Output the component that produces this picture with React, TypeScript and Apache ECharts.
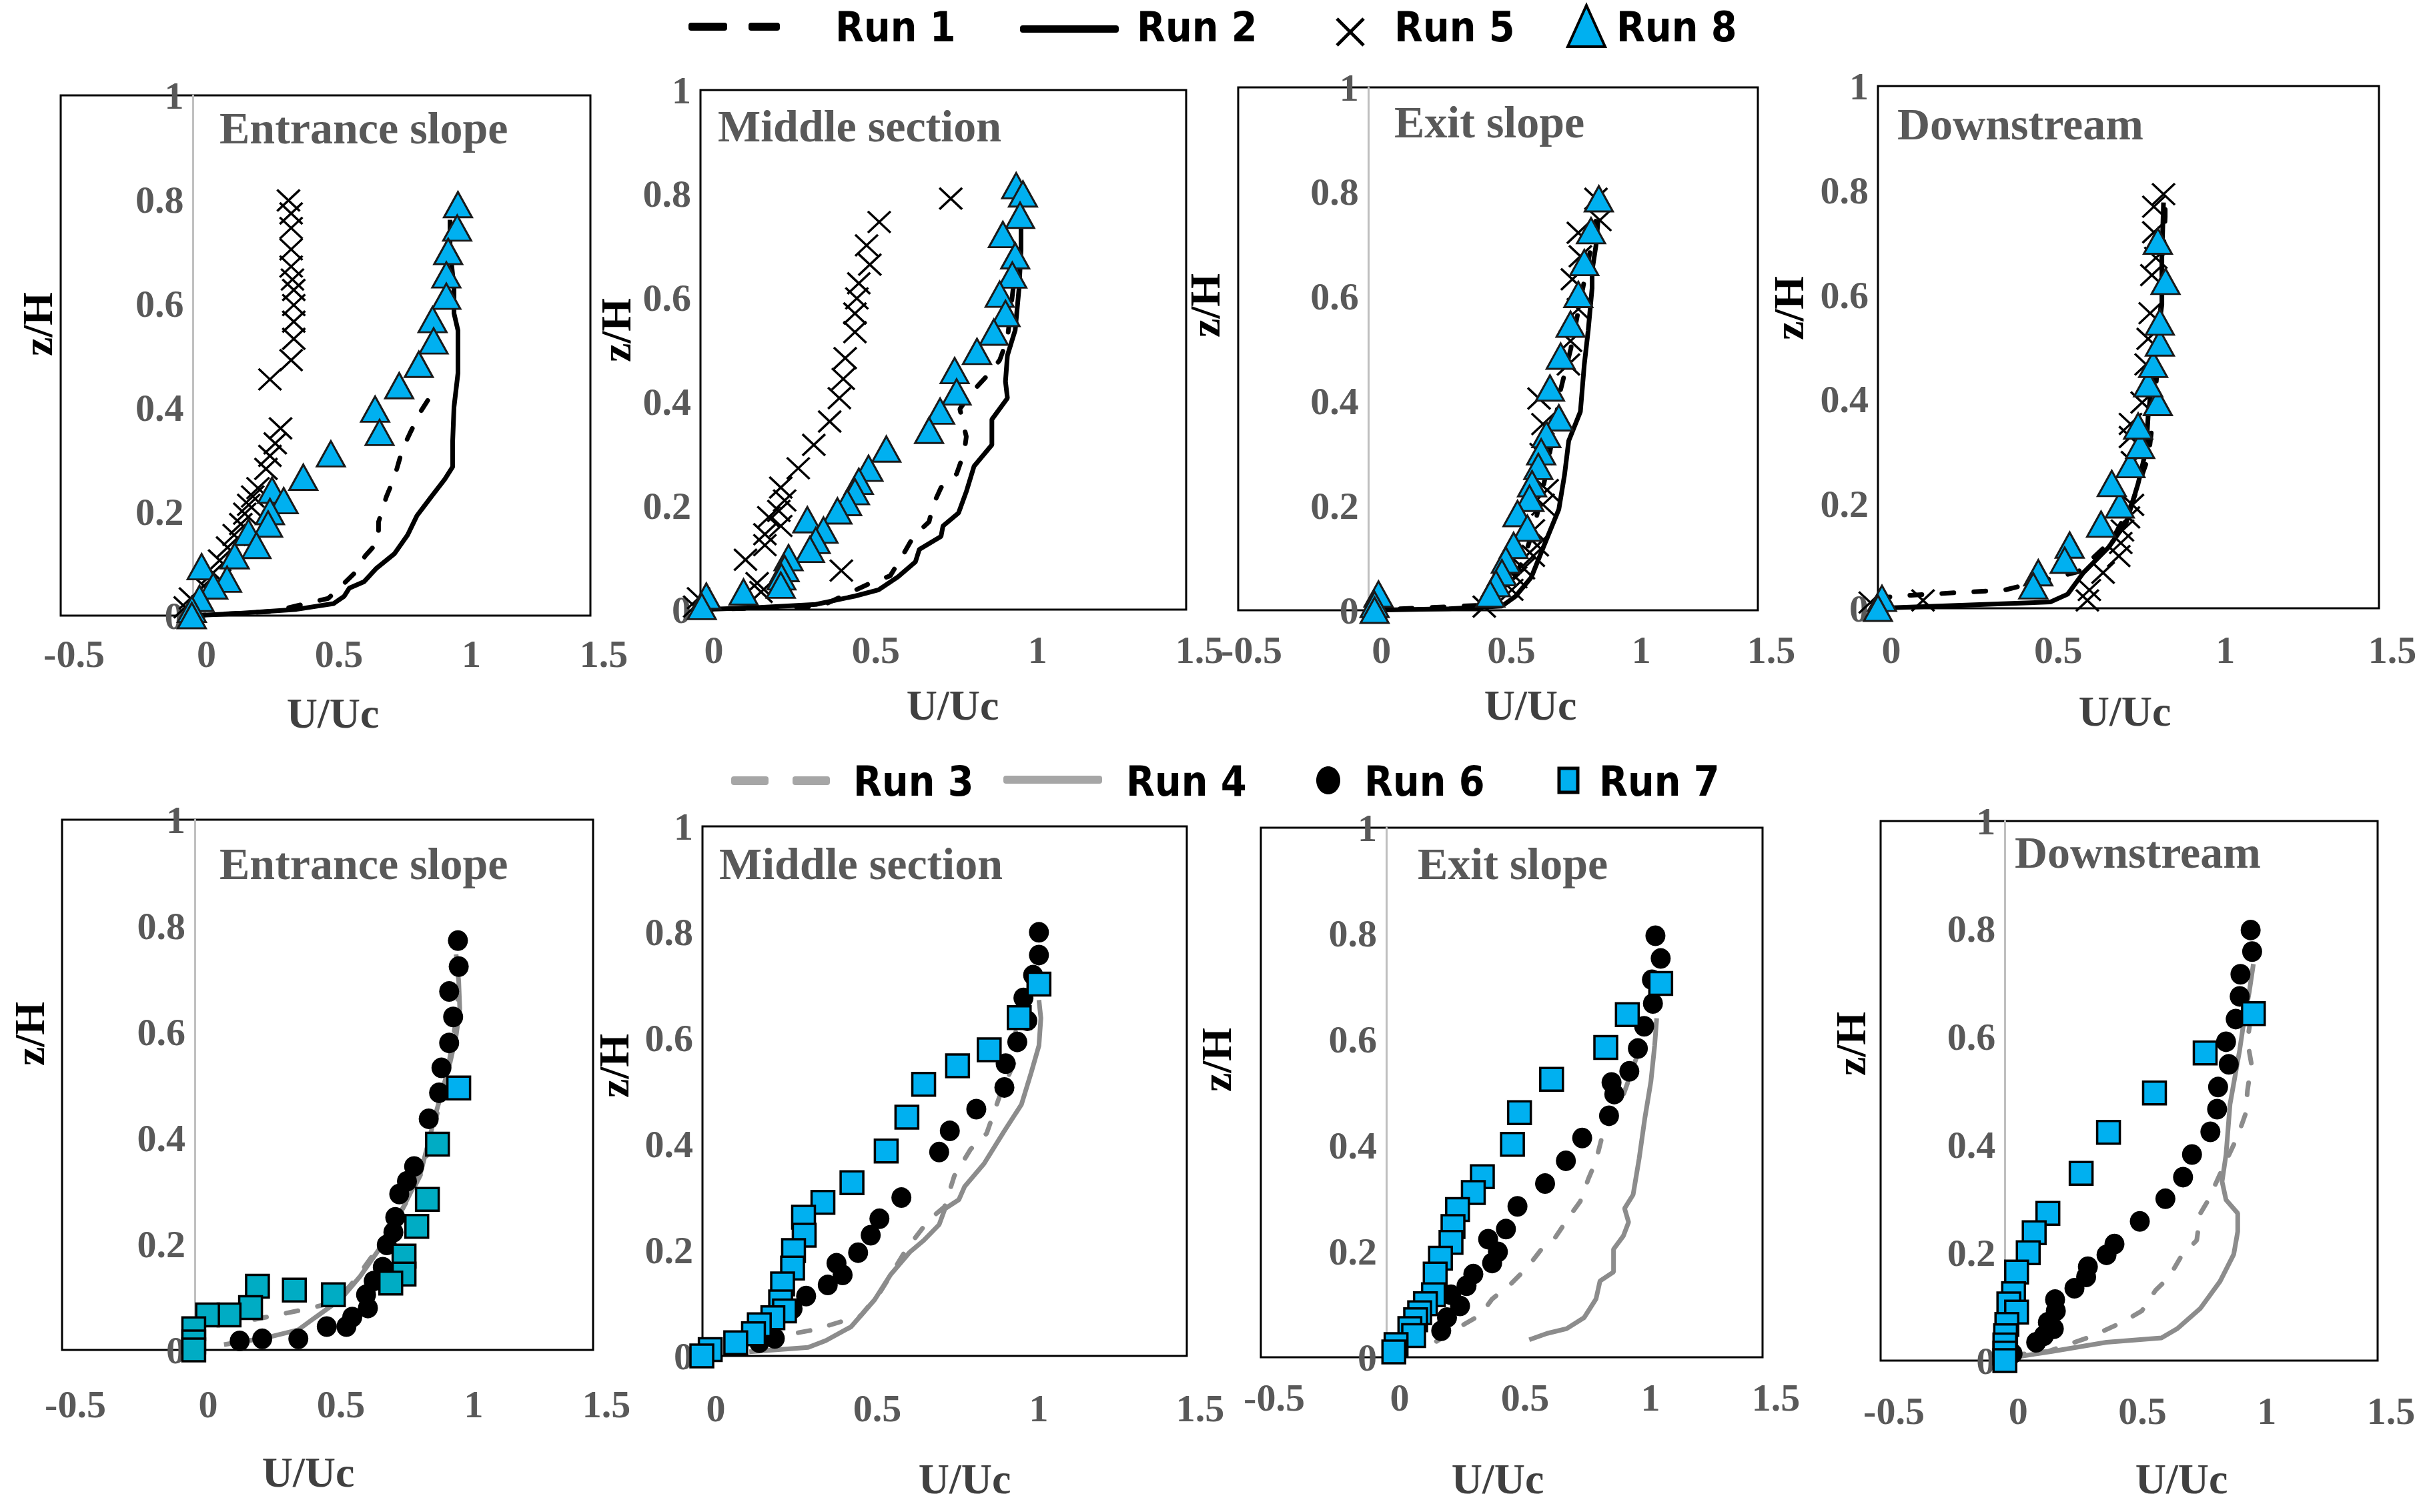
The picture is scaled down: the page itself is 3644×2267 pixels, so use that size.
import { useEffect, useRef } from 'react';
import * as echarts from 'echarts';

// values: [U/Uc, z/H]
// top row
const entranceRun1 = [[0, 0], [0.3, 0.008], [0.51, 0.033], [0.56, 0.057], [0.61, 0.082], [0.65, 0.115], [0.7, 0.143], [0.7, 0.18], [0.73, 0.229], [0.76, 0.266], [0.79, 0.319], [0.82, 0.352], [0.86, 0.393], [0.9, 0.425]];
const entranceRun2 = [[0, 0], [0.16, 0.004], [0.39, 0.012], [0.53, 0.023], [0.57, 0.037], [0.59, 0.053], [0.645, 0.065], [0.69, 0.09], [0.76, 0.119], [0.81, 0.155], [0.845, 0.192], [0.9, 0.229], [0.95, 0.262], [0.98, 0.286], [0.98, 0.336], [0.985, 0.401], [1.0, 0.466], [1.0, 0.548], [0.985, 0.581], [0.985, 0.63], [0.97, 0.704], [0.97, 0.761]];
const entranceRun5 = [[0.36, 0.798], [0.37, 0.773], [0.37, 0.745], [0.37, 0.704], [0.37, 0.671], [0.375, 0.646], [0.38, 0.626], [0.38, 0.597], [0.38, 0.565], [0.38, 0.532], [0.37, 0.491], [0.29, 0.454], [0.33, 0.36], [0.31, 0.331], [0.29, 0.307], [0.275, 0.282], [0.245, 0.245], [0.225, 0.229], [0.21, 0.213], [0.195, 0.196], [0.18, 0.176], [0.155, 0.155], [0.13, 0.131], [0.1, 0.106], [0.075, 0.082], [0.04, 0.057], [-0.01, 0.033], [-0.03, 0.016]];
const entranceRun8 = [[1.0, 0.79], [0.997, 0.745], [0.963, 0.7], [0.956, 0.655], [0.956, 0.614], [0.904, 0.569], [0.908, 0.528], [0.852, 0.483], [0.778, 0.442], [0.687, 0.397], [0.704, 0.352], [0.52, 0.311], [0.416, 0.266], [0.298, 0.241], [0.342, 0.221], [0.29, 0.2], [0.283, 0.176], [0.209, 0.16], [0.239, 0.135], [0.157, 0.115], [0.032, 0.094], [0.128, 0.07], [0.076, 0.057], [0.024, 0.033], [-0.005, 0.012], [-0.005, 0]];

const middleRun1 = [[0, 0], [0.37, 0.006], [0.525, 0.051], [0.586, 0.065], [0.628, 0.108], [0.658, 0.141], [0.706, 0.169], [0.719, 0.202], [0.743, 0.235], [0.791, 0.261], [0.815, 0.304], [0.821, 0.333], [0.801, 0.386], [0.833, 0.415], [0.882, 0.448], [0.924, 0.48], [0.948, 0.521], [0.96, 0.587], [0.972, 0.652], [0.99, 0.701]];
const middleRun2 = [[0, 0], [0.175, 0.004], [0.356, 0.01], [0.477, 0.026], [0.55, 0.038], [0.61, 0.063], [0.664, 0.092], [0.676, 0.116], [0.743, 0.141], [0.749, 0.161], [0.797, 0.186], [0.821, 0.227], [0.845, 0.276], [0.9, 0.317], [0.9, 0.366], [0.948, 0.407], [0.942, 0.439], [0.948, 0.489], [0.972, 0.538], [0.984, 0.619], [0.99, 0.693], [0.99, 0.742]];
const middleRun5 = [[0.773, 0.791], [0.552, 0.746], [0.513, 0.701], [0.523, 0.664], [0.489, 0.628], [0.483, 0.599], [0.477, 0.57], [0.477, 0.534], [0.447, 0.484], [0.441, 0.444], [0.429, 0.407], [0.399, 0.362], [0.35, 0.317], [0.302, 0.272], [0.248, 0.235], [0.26, 0.21], [0.242, 0.19], [0.211, 0.178], [0.248, 0.161], [0.199, 0.145], [0.199, 0.124], [0.139, 0.096], [0.435, 0.075], [0.175, 0.051], [0.187, 0.034], [-0.006, 0.022], [-0.018, 0.006]];
const middleRun8 = [[0.975, 0.816], [0.996, 0.8], [0.987, 0.759], [0.934, 0.722], [0.972, 0.681], [0.963, 0.644], [0.924, 0.607], [0.942, 0.57], [0.906, 0.534], [0.854, 0.497], [0.785, 0.46], [0.791, 0.419], [0.74, 0.382], [0.706, 0.345], [0.574, 0.309], [0.519, 0.272], [0.489, 0.247], [0.477, 0.227], [0.453, 0.206], [0.423, 0.19], [0.33, 0.173], [0.38, 0.153], [0.356, 0.133], [0.338, 0.116], [0.272, 0.1], [0.26, 0.079], [0.25, 0.063], [0.248, 0.047], [0.133, 0.034], [0.018, 0.026], [0.004, 0.006]];

const exitRun1 = [[0, 0], [0.45, 0.01], [0.55, 0.05], [0.6, 0.1], [0.64, 0.16], [0.68, 0.25], [0.71, 0.33], [0.74, 0.42], [0.78, 0.5], [0.82, 0.6], [0.86, 0.7], [0.89, 0.78]];
const exitRun2 = [[0, 0], [0.311, 0.003], [0.515, 0.008], [0.568, 0.027], [0.628, 0.063], [0.674, 0.12], [0.734, 0.193], [0.756, 0.259], [0.772, 0.324], [0.817, 0.38], [0.832, 0.47], [0.847, 0.535], [0.862, 0.616], [0.862, 0.649], [0.877, 0.698], [0.885, 0.746]];
const exitRun5 = [[0.877, 0.787], [0.892, 0.746], [0.809, 0.722], [0.817, 0.677], [0.786, 0.633], [0.809, 0.576], [0.779, 0.515], [0.771, 0.47], [0.658, 0.405], [0.673, 0.356], [0.666, 0.299], [0.689, 0.23], [0.673, 0.202], [0.636, 0.153], [0.651, 0.124], [0.636, 0.104], [0.598, 0.08], [0.568, 0.063], [0.553, 0.039], [0.447, 0.007]];
const exitRun8 = [[0.888, 0.787], [0.858, 0.726], [0.832, 0.665], [0.809, 0.604], [0.779, 0.547], [0.741, 0.486], [0.7, 0.425], [0.734, 0.368], [0.686, 0.336], [0.666, 0.303], [0.655, 0.275], [0.631, 0.242], [0.621, 0.214], [0.575, 0.185], [0.613, 0.157], [0.56, 0.124], [0.53, 0.096], [0.515, 0.072], [0.492, 0.051], [0.47, 0.031], [0.04, 0.031], [0.025, 0.011], [0.025, 0]];

const downRun1 = [[0, 0.02], [0.1, 0.025], [0.38, 0.035], [0.6, 0.07], [0.7, 0.13], [0.76, 0.2], [0.81, 0.29], [0.83, 0.4], [0.84, 0.5], [0.85, 0.62], [0.86, 0.75], [0.86, 0.79]];
const downRun2 = [[0, 0], [0.516, 0.012], [0.568, 0.027], [0.615, 0.068], [0.691, 0.117], [0.744, 0.165], [0.779, 0.239], [0.803, 0.304], [0.809, 0.369], [0.826, 0.467], [0.85, 0.581], [0.85, 0.671], [0.855, 0.777]];
const downRun5 = [[0.855, 0.793], [0.826, 0.769], [0.826, 0.72], [0.832, 0.671], [0.82, 0.638], [0.815, 0.565], [0.809, 0.516], [0.803, 0.467], [0.791, 0.394], [0.756, 0.353], [0.756, 0.328], [0.762, 0.28], [0.762, 0.198], [0.75, 0.174], [0.732, 0.149], [0.727, 0.125], [0.721, 0.1], [0.674, 0.068], [0.633, 0.035], [0.627, 0.015], [0.135, 0.015], [-0.023, 0.011]];
const downRun8 = [[0.012, 0.019], [0, 0], [0.48, 0.068], [0.465, 0.043], [0.574, 0.121], [0.559, 0.092], [0.668, 0.161], [0.724, 0.198], [0.7, 0.239], [0.756, 0.275], [0.785, 0.312], [0.779, 0.349], [0.838, 0.394], [0.809, 0.43], [0.824, 0.467], [0.844, 0.508], [0.844, 0.548], [0.861, 0.626], [0.838, 0.703]];

// bottom row
const entranceRun3 = [[0, 0.03], [0.05, 0.05], [0.15, 0.05], [0.3, 0.065], [0.4, 0.075], [0.53, 0.09], [0.6, 0.13], [0.68, 0.185], [0.74, 0.23], [0.81, 0.29], [0.86, 0.34], [0.89, 0.4], [0.92, 0.46], [0.95, 0.52], [0.97, 0.58], [0.99, 0.64], [0.99, 0.7]];
const entranceRun4 = [[0.11, 0.01], [0.27, 0.023], [0.39, 0.038], [0.45, 0.06], [0.52, 0.085], [0.564, 0.104], [0.623, 0.139], [0.682, 0.181], [0.741, 0.224], [0.8, 0.284], [0.851, 0.335], [0.873, 0.378], [0.903, 0.438], [0.932, 0.489], [0.961, 0.541], [0.984, 0.592], [0.998, 0.643], [0.994, 0.695], [0.984, 0.746]];
const entranceRun6 = [[0.991, 0.772], [0.994, 0.723], [0.958, 0.676], [0.973, 0.628], [0.958, 0.579], [0.929, 0.532], [0.92, 0.485], [0.881, 0.436], [0.826, 0.346], [0.799, 0.318], [0.77, 0.294], [0.755, 0.25], [0.748, 0.222], [0.723, 0.198], [0.708, 0.156], [0.674, 0.13], [0.645, 0.104], [0.652, 0.079], [0.593, 0.062], [0.571, 0.044], [0.497, 0.044], [0.39, 0.021], [0.254, 0.021], [0.169, 0.017]];
const entranceRun7 = [[0.994, 0.494], [0.914, 0.388], [0.876, 0.284], [0.836, 0.233], [0.788, 0.177], [0.788, 0.143], [0.738, 0.126], [0.522, 0.104], [0.375, 0.113], [0.236, 0.12], [0.21, 0.08], [0.129, 0.066], [0.048, 0.066], [-0.004, 0.04], [-0.004, 0.015], [-0.004, 0]];

const middleRun3 = [[0.2, 0.03], [0.28, 0.042], [0.35, 0.05], [0.42, 0.063], [0.49, 0.076], [0.55, 0.12], [0.6, 0.17], [0.63, 0.2], [0.7, 0.256], [0.75, 0.282], [0.78, 0.34], [0.83, 0.39], [0.88, 0.42], [0.92, 0.49], [0.97, 0.56], [0.97, 0.62], [1.0, 0.66]];
const middleRun4 = [[0.145, 0.008], [0.327, 0.016], [0.382, 0.029], [0.46, 0.055], [0.533, 0.106], [0.582, 0.153], [0.642, 0.196], [0.685, 0.218], [0.733, 0.248], [0.751, 0.278], [0.794, 0.295], [0.812, 0.32], [0.872, 0.363], [0.933, 0.423], [0.988, 0.475], [1.018, 0.535], [1.042, 0.586], [1.048, 0.638], [1.042, 0.672]];
const middleRun6 = [[1.042, 0.8], [1.042, 0.757], [1.024, 0.719], [0.994, 0.676], [1.006, 0.633], [0.975, 0.593], [0.939, 0.552], [0.935, 0.507], [0.848, 0.466], [0.766, 0.425], [0.733, 0.385], [0.616, 0.299], [0.548, 0.259], [0.521, 0.228], [0.482, 0.195], [0.415, 0.175], [0.434, 0.153], [0.388, 0.134], [0.321, 0.113], [0.279, 0.089], [0.224, 0.033], [0.176, 0.025]];
const middleRun7 = [[1.042, 0.702], [0.981, 0.639], [0.888, 0.578], [0.79, 0.548], [0.685, 0.513], [0.633, 0.451], [0.569, 0.387], [0.463, 0.327], [0.373, 0.29], [0.313, 0.262], [0.315, 0.228], [0.282, 0.199], [0.279, 0.166], [0.248, 0.136], [0.242, 0.102], [0.254, 0.085], [0.218, 0.072], [0.176, 0.059], [0.158, 0.042], [0.103, 0.025], [0.024, 0.012], [-0.002, 0]];

const exitRun3 = [[0.2, 0.03], [0.266, 0.05], [0.375, 0.08], [0.422, 0.11], [0.5, 0.14], [0.563, 0.17], [0.625, 0.208], [0.672, 0.225], [0.727, 0.264], [0.773, 0.294], [0.805, 0.336], [0.836, 0.371], [0.859, 0.414], [0.906, 0.452], [0.945, 0.495], [1.008, 0.58], [1.047, 0.623], [1.086, 0.64]];
const exitRun4 = [[0.57, 0.033], [0.641, 0.045], [0.719, 0.054], [0.789, 0.075], [0.836, 0.11], [0.852, 0.144], [0.906, 0.161], [0.906, 0.204], [0.945, 0.229], [0.966, 0.255], [0.95, 0.281], [0.984, 0.307], [1.008, 0.375], [1.031, 0.452], [1.055, 0.521], [1.07, 0.589], [1.078, 0.64]];
const exitRun6 = [[1.073, 0.796], [1.094, 0.753], [1.059, 0.713], [1.063, 0.668], [1.028, 0.625], [1.003, 0.583], [0.969, 0.54], [0.898, 0.519], [0.909, 0.497], [0.888, 0.456], [0.781, 0.414], [0.716, 0.371], [0.633, 0.328], [0.523, 0.285], [0.477, 0.242], [0.406, 0.223], [0.445, 0.199], [0.422, 0.178], [0.347, 0.157], [0.32, 0.135], [0.258, 0.118], [0.294, 0.097], [0.242, 0.075], [0.219, 0.05]];
const exitRun7 = [[1.094, 0.706], [0.961, 0.647], [0.875, 0.585], [0.659, 0.525], [0.531, 0.462], [0.503, 0.402], [0.383, 0.341], [0.347, 0.311], [0.284, 0.279], [0.266, 0.247], [0.258, 0.217], [0.216, 0.187], [0.195, 0.157], [0.188, 0.118], [0.156, 0.101], [0.133, 0.084], [0.117, 0.071], [0.094, 0.054], [0.109, 0.041], [0.039, 0.024], [0.03, 0.01]];

const downRun3 = [[0.03, 0.01], [0.173, 0.017], [0.35, 0.045], [0.472, 0.071], [0.551, 0.092], [0.606, 0.13], [0.661, 0.155], [0.709, 0.193], [0.772, 0.223], [0.787, 0.273], [0.819, 0.298], [0.87, 0.35], [0.937, 0.416], [0.969, 0.458], [0.976, 0.5], [0.992, 0.55], [0.976, 0.592], [0.984, 0.618]];
const downRun4 = [[0, 0], [0.063, 0.008], [0.189, 0.017], [0.409, 0.034], [0.63, 0.042], [0.693, 0.059], [0.787, 0.097], [0.866, 0.147], [0.921, 0.197], [0.937, 0.239], [0.937, 0.273], [0.89, 0.298], [0.874, 0.332], [0.89, 0.382], [0.906, 0.475], [0.945, 0.576], [0.961, 0.626], [0.984, 0.685], [1.0, 0.735]];
const downRun6 = [[0.989, 0.798], [0.995, 0.758], [0.948, 0.716], [0.945, 0.675], [0.929, 0.633], [0.89, 0.591], [0.901, 0.549], [0.858, 0.507], [0.854, 0.466], [0.827, 0.424], [0.753, 0.382], [0.717, 0.34], [0.646, 0.3], [0.543, 0.258], [0.441, 0.216], [0.409, 0.196], [0.334, 0.174], [0.327, 0.155], [0.28, 0.134], [0.202, 0.113], [0.205, 0.092], [0.173, 0.071], [0.197, 0.059], [0.157, 0.046], [0.126, 0.034], [0.031, 0.013]];
const downRun7 = [[1.0, 0.643], [0.806, 0.57], [0.602, 0.496], [0.417, 0.423], [0.307, 0.347], [0.173, 0.273], [0.118, 0.237], [0.094, 0.2], [0.047, 0.164], [0.035, 0.124], [0.016, 0.105], [0.047, 0.09], [0.008, 0.067], [0.003, 0.046], [0, 0.029], [0, 0.014], [0, 0]];

const panelTitles = ['Entrance slope', 'Middle section', 'Exit slope', 'Downstream', 'Entrance slope', 'Middle section', 'Exit slope', 'Downstream'];
const xMins = [-0.5, 0, -0.5, 0, -0.5, 0, -0.5, -0.5];
const X_MAX = 1.5;
const topRuns = ['Run 1', 'Run 2', 'Run 5', 'Run 8'];
const bottomRuns = ['Run 3', 'Run 4', 'Run 6', 'Run 7'];

const panelData = [
  [entranceRun1, entranceRun2, entranceRun5, entranceRun8],
  [middleRun1, middleRun2, middleRun5, middleRun8],
  [exitRun1, exitRun2, exitRun5, exitRun8],
  [downRun1, downRun2, downRun5, downRun8],
  [entranceRun3, entranceRun4, entranceRun6, entranceRun7],
  [middleRun3, middleRun4, middleRun6, middleRun7],
  [exitRun3, exitRun4, exitRun6, exitRun7],
  [downRun3, downRun4, downRun6, downRun7],
];

// page layout in px: plot frame [left, top, width, height], title left/centre, z/H and U/Uc centres
const layout = [
  { grid: [91, 143, 794, 780], title: [329, 192], zh: [56, 486], u: [499, 1069], margin: 28 },
  { grid: [1050, 135, 728, 779], title: [1076, 189], zh: [923, 495], u: [1428, 1057], margin: 31 },
  { grid: [1856, 131, 779, 784], title: [2090, 183], zh: [1806, 458], u: [2294, 1057], margin: 30 },
  { grid: [2815, 129, 751, 783], title: [2844, 186], zh: [2681, 462], u: [3185, 1066], margin: 33 },
  { grid: [93, 1229, 796, 795], title: [329, 1295], zh: [44, 1550], u: [462, 2207], margin: 52 },
  { grid: [1053, 1239, 726, 794], title: [1078, 1295], zh: [920, 1598], u: [1446, 2217], margin: 49 },
  { grid: [1890, 1241, 752, 794], title: [2125, 1295], zh: [1823, 1589], u: [2245, 2217], margin: 31 },
  { grid: [2819, 1231, 745, 809], title: [3020, 1278], zh: [2774, 1565], u: [3270, 2217], margin: 46 },
];

const SERIF = '"Liberation Serif", "DejaVu Serif", serif';
const SANS = '"DejaVu Sans Condensed", "DejaVu Sans", sans-serif';
const BLUE = '#00B0F0';
const CROSS = 'path://M0,0L10,10M10,0L0,10';

function panelSeries(i: number) {
  const top = i < 4;
  const [dashed, solid, pts1, pts2] = panelData[i];
  const names = top ? topRuns : bottomRuns;
  const lineColor = top ? '#000000' : '#8C8C8C';
  const base = { xAxisIndex: i, yAxisIndex: i, clip: false, silent: true };
  const series: any[] = [
    { ...base, type: 'line', name: names[0], data: dashed, symbol: 'none', z: 2, lineStyle: { color: lineColor, width: 7, type: [18, 30], cap: 'round' } },
    { ...base, type: 'line', name: names[1], data: solid, symbol: 'none', z: 2, lineStyle: { color: lineColor, width: 7 } },
  ];
  if (top) {
    series.push({ ...base, type: 'scatter', name: names[2], data: pts1, symbol: CROSS, symbolSize: [34, 32], z: 3, itemStyle: { color: 'transparent', borderColor: '#000', borderWidth: 3.5, opacity: 1 } });
    series.push({ ...base, type: 'scatter', name: names[3], data: pts2, symbol: 'triangle', symbolSize: [42, 38], z: 4, itemStyle: { color: BLUE, borderColor: '#1a1a1a', borderWidth: 3, opacity: 1 } });
  } else {
    series.push({ ...base, type: 'scatter', name: names[2], data: pts1, symbol: 'circle', symbolSize: [30, 31], z: 3, itemStyle: { color: '#000', opacity: 1 } });
    // the entrance-slope squares are printed in a teal shade, all but the top one
    const sq = i === 4 ? pts2.map((p, k) => ({ value: p, itemStyle: { color: k === 0 ? BLUE : '#00ACC4' } })) : pts2;
    series.push({ ...base, type: 'scatter', name: names[3], data: sq, symbol: 'rect', symbolSize: [34, 34], z: 4, itemStyle: { color: BLUE, borderColor: '#000', borderWidth: 3.5, opacity: 1 } });
  }
  return series;
}

function legendGraphics() {
  const txt = (text: string, x: number, y: number) => ({
    type: 'text', x, y, style: { text, font: `bold 62px ${SANS}`, fill: '#000', textAlign: 'left', textVerticalAlign: 'middle' },
  });
  const bar = (x: number, y: number, w: number, h: number, fill: string) => ({
    type: 'rect', shape: { x, y, width: w, height: h, r: 4 }, style: { fill },
  });
  return [
    // top legend
    bar(1032, 34, 58, 12, '#000'), bar(1122, 34, 47, 12, '#000'), txt('Run 1', 1252, 40),
    bar(1529, 38, 148, 11, '#000'), txt('Run 2', 1704, 40),
    { type: 'line', shape: { x1: 2004, y1: 28, x2: 2044, y2: 68 }, style: { stroke: '#000', lineWidth: 5 } },
    { type: 'line', shape: { x1: 2044, y1: 28, x2: 2004, y2: 68 }, style: { stroke: '#000', lineWidth: 5 } },
    txt('Run 5', 2090, 40),
    { type: 'polygon', shape: { points: [[2378, 8], [2350, 70], [2406, 70]] }, style: { fill: BLUE, stroke: '#000', lineWidth: 4 } },
    txt('Run 8', 2423, 40),
    // bottom legend
    bar(1096, 1164, 56, 13, '#A6A6A6'), bar(1188, 1164, 56, 13, '#A6A6A6'), txt('Run 3', 1279, 1171),
    bar(1504, 1163, 148, 12, '#A6A6A6'), txt('Run 4', 1688, 1171),
    { type: 'ellipse', shape: { cx: 1991, cy: 1170, rx: 18, ry: 21 }, style: { fill: '#000' } },
    txt('Run 6', 2045, 1171),
    { type: 'rect', shape: { x: 2337, y: 1152, width: 28, height: 36 }, style: { fill: BLUE, stroke: '#000', lineWidth: 5 } },
    txt('Run 7', 2397, 1171),
  ];
}

function App() {
  const chartRef = useRef<HTMLDivElement>(null);

  useEffect(() => {
    document.body.style.margin = '0';
    if (!chartRef.current) return;
    const chart = echarts.init(chartRef.current, undefined, { renderer: 'svg' });

    const grids = layout.map((l) => ({
      left: l.grid[0], top: l.grid[1], width: l.grid[2], height: l.grid[3],
      show: true, borderColor: '#000', borderWidth: 3, backgroundColor: 'transparent',
      containLabel: false, outerBoundsMode: 'none',
    }));

    const xAxes = layout.map((l, i) => ({
      type: 'value', gridIndex: i, min: xMins[i], max: X_MAX, interval: 0.5,
      axisLine: { show: false }, axisTick: { show: false }, splitLine: { show: false },
      axisLabel: { color: '#595959', fontFamily: SERIF, fontWeight: 'bold', fontSize: 58, margin: l.margin, padding: [0, 0, 0, 40] },
    }));

    // the vertical axis (line and labels) sits at U/Uc = 0, inside the frame when the range starts below zero
    const yAxes = layout.map((l, i) => ({
      type: 'value', gridIndex: i, min: 0, max: 1, interval: 0.2,
      offset: -((0 - xMins[i]) / (X_MAX - xMins[i])) * l.grid[2],
      axisLine: { show: xMins[i] < 0, onZero: false, lineStyle: { color: '#BFBFBF', width: 3 } },
      axisTick: { show: false }, splitLine: { show: false },
      axisLabel: { color: '#595959', fontFamily: SERIF, fontWeight: 'bold', fontSize: 58, margin: 14, padding: [24, 0, 0, 0] },
    }));

    const texts: any[] = [];
    layout.forEach((l, i) => {
      texts.push({ type: 'text', x: l.title[0], y: l.title[1], style: { text: panelTitles[i], font: `bold 68px ${SERIF}`, fill: '#595959', textAlign: 'left', textVerticalAlign: 'middle' } });
      texts.push({ type: 'text', x: l.zh[0], y: l.zh[1], rotation: Math.PI / 2, style: { text: 'z/H', font: `bold 64px ${SERIF}`, fill: '#000', textAlign: 'center', textVerticalAlign: 'middle' } });
      texts.push({ type: 'text', x: l.u[0], y: l.u[1], style: { text: 'U/Uc', font: `bold 64px ${SERIF}`, fill: '#404040', textAlign: 'center', textVerticalAlign: 'middle' } });
    });

    chart.setOption({
      animation: false,
      backgroundColor: '#ffffff',
      grid: grids,
      xAxis: xAxes,
      yAxis: yAxes,
      series: layout.flatMap((_, i) => panelSeries(i)),
      graphic: { elements: [...texts, ...legendGraphics()] },
    } as any);

    const handleResize = () => chart.resize();
    window.addEventListener('resize', handleResize);
    return () => {
      window.removeEventListener('resize', handleResize);
      chart.dispose();
    };
  }, []);

  return <div ref={chartRef} style={{ width: 3644, height: 2267 }} />;
}

export default App;
